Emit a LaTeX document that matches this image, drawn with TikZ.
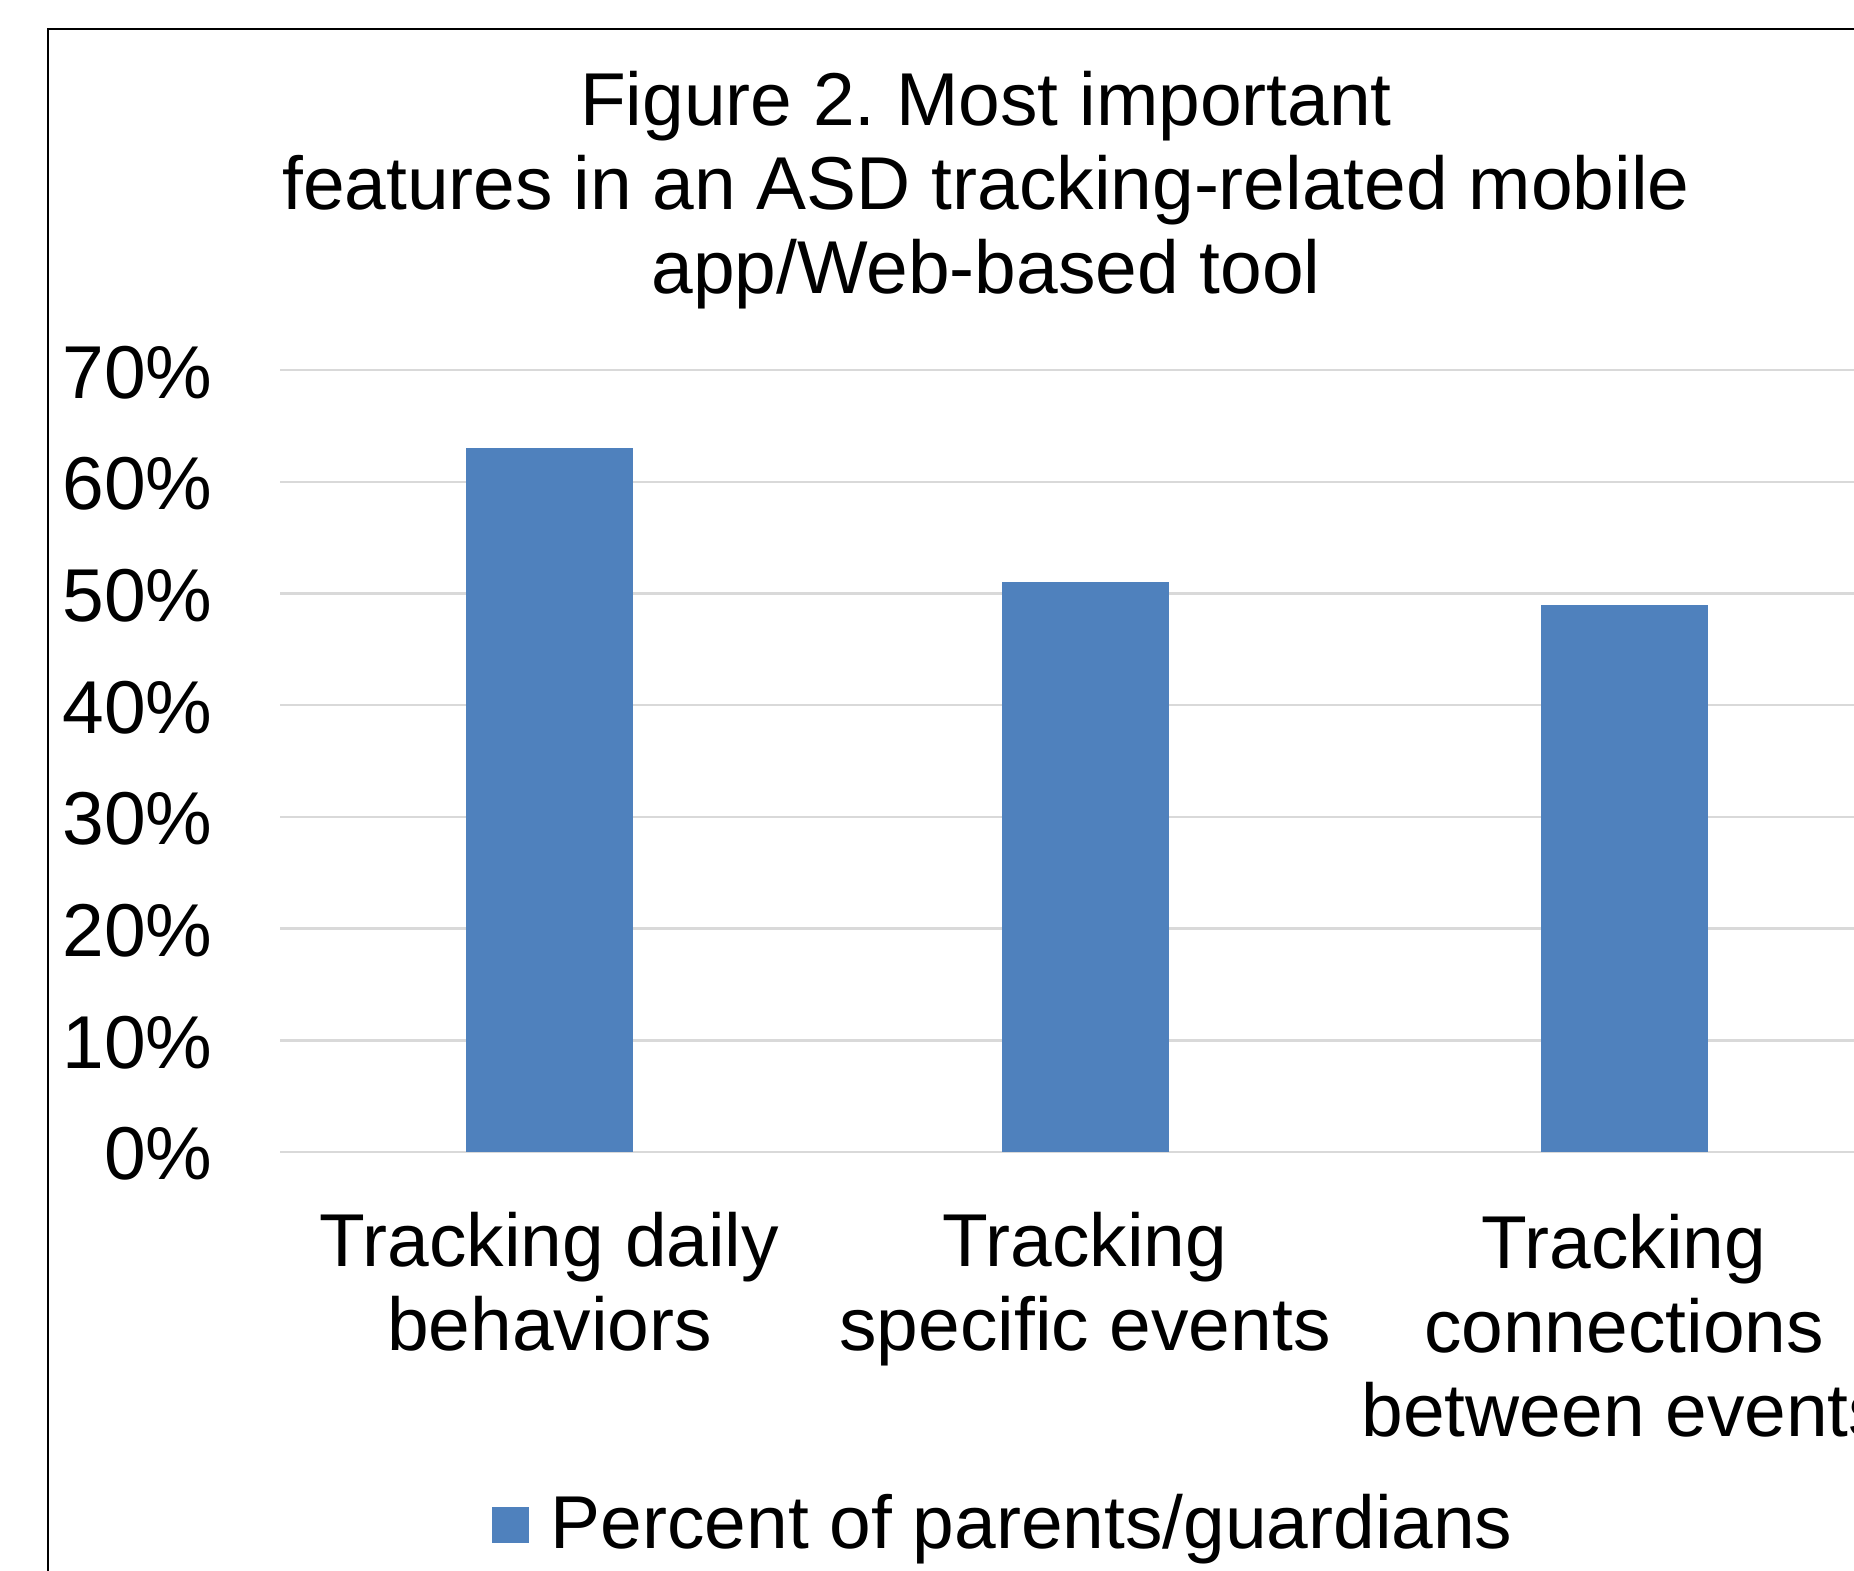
\documentclass[tikz,border=0pt]{standalone}
\usepackage{fontspec}
\setmainfont{Liberation Sans}
\frenchspacing
\definecolor{barblue}{HTML}{4F81BD}
\definecolor{gridgray}{HTML}{D9D9D9}
\begin{document}
\begin{tikzpicture}[x=0.01cm,y=-0.01cm,
    every node/.style={font=\fontsize{21.3}{23.9}\selectfont, inner sep=0pt},
    ylab/.style={anchor=base east},
    catlab/.style={align=center, anchor=base},
    bar/.style={fill=barblue, draw=none}]
    \useasboundingbox (0,0) rectangle (1854,1571);
    % Cornice
    \draw[line width=0.65pt] (48,1571) -- (48,29) -- (1854,29);
    % Titolo (base = ultima riga)
    \node[catlab] (title) at (986,294) {Figure 2. Most important\\features in an ASD tracking-related mobile\\app/Web-based tool};
    % Griglia e assi
    \foreach \v in {0,...,7} {
        \pgfmathtruncatemacro\p{10*\v}
        \draw[gridgray, line width=0.7pt] (280,{1152-111.7*\v}) -- (1854,{1152-111.7*\v});
        \node[ylab] (y\v) at (213,{1180-111.7*\v}) {\p\%};
    }
    % Barre
    \foreach \x/\val in {549.5/63, 1085/51, 1624/49} {
        \fill[bar] (\x-83.5,1152) rectangle (\x+83.5,{1152-11.17*\val});
    }
    % Categorie
    \node[catlab] (c1) at (549.5,1351) {Tracking daily\\behaviors};
    \node[catlab] (c2) at (1085,1351) {Tracking\\specific events};
    \node[catlab] (c3) at (1624,1437) {Tracking\\connections\\between events};
    % Legenda
    \node[bar, minimum width=10.5pt, minimum height=10.2pt] (key) at (510.5,1525) {};
    \node[anchor=base west] (keylab) at (550,1549) {Percent of parents/guardians};
\end{tikzpicture}
\end{document}
